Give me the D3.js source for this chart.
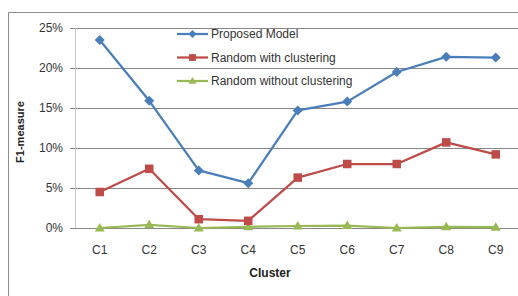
<!DOCTYPE html>
<html>
<head>
<meta charset="utf-8">
<script src="https://cdn.jsdelivr.net/npm/d3@7"></script>
<style>
  html, body { margin: 0; padding: 0; background: #fff; }
  svg { display: block; font-family: "Liberation Sans", Arial, sans-serif; }
</style>
</head>
<body>
<div id="chart"></div>
<script>
/* F1-measure per cluster, three methods */
var clusters = ["C1", "C2", "C3", "C4", "C5", "C6", "C7", "C8", "C9"];
var proposed = [23.5, 15.9, 7.2, 5.6, 14.7, 15.8, 19.5, 21.4, 21.3];
var randomWith = [4.5, 7.4, 1.1, 0.9, 6.3, 8.0, 8.0, 10.7, 9.2];
var randomWithout = [0.0, 0.4, 0.0, 0.15, 0.25, 0.3, 0.0, 0.15, 0.1];
var yTicks = [0, 5, 10, 15, 20, 25];
var seriesNames = ["Proposed Model", "Random with clustering", "Random without clustering"];
var seriesColors = ["#4a7ebb", "#be4b48", "#98b954"];

(function () {
  "use strict";

  var W = 518, H = 296;
  var m = { l: 75, t: 28, plotW: 445.5, plotH: 200 };

  var svg = d3.select("#chart").append("svg").attr("width", W).attr("height", H);

  // outer chart frame (cropped on right/bottom)
  svg.append("path")
    .attr("d", "M8.5," + H + "V12.5H" + W)
    .attr("fill", "none").attr("stroke", "#8c8c8c").attr("stroke-width", 1);

  var g = svg.append("g").attr("transform", "translate(" + m.l + "," + m.t + ")");

  var x = d3.scaleBand().domain(clusters).range([0, m.plotW]);
  var y = d3.scaleLinear().domain([0, 25]).range([m.plotH, 0]);
  var cx = function (d, i) { return x(clusters[i]) + x.bandwidth() / 2; };

  // gridlines
  g.append("g").selectAll("line").data(yTicks).join("line")
    .attr("x1", -5).attr("x2", m.plotW)
    .attr("y1", function (d) { return Math.round(y(d)) + 0.5; })
    .attr("y2", function (d) { return Math.round(y(d)) + 0.5; })
    .attr("stroke", "#868686").attr("stroke-width", 1);

  // vertical axis line
  g.append("line").attr("x1", 0.5).attr("x2", 0.5).attr("y1", 0).attr("y2", m.plotH)
    .attr("stroke", "#c8c8c8").attr("stroke-width", 1);

  // y tick labels
  g.append("g").selectAll("text").data(yTicks).join("text")
    .attr("x", -12).attr("y", function (d) { return y(d); })
    .attr("dy", "0.35em").attr("text-anchor", "end")
    .attr("font-size", 12).attr("fill", "#333")
    .text(function (d) { return d + "%"; });

  // x tick labels
  g.append("g").selectAll("text").data(clusters).join("text")
    .attr("x", function (d) { return x(d) + x.bandwidth() / 2; })
    .attr("y", m.plotH + 22).attr("dy", "0.35em").attr("text-anchor", "middle")
    .attr("font-size", 12).attr("fill", "#333")
    .text(function (d) { return d; });

  // axis titles
  svg.append("text").attr("x", 270).attr("y", 277).attr("text-anchor", "middle")
    .attr("font-size", 12).attr("font-weight", "bold").attr("fill", "#222").text("Cluster");
  svg.append("text").attr("transform", "translate(24,132) rotate(-90)").attr("text-anchor", "middle")
    .attr("font-size", 11).attr("font-weight", "bold").attr("fill", "#222").text("F1-measure");

  var line = d3.line().x(cx).y(function (d) { return y(d); });
  var allSeries = [proposed, randomWith, randomWithout];

  function drawMarker(sel, k, size) {
    var h = size / 2;
    if (k === 0) {
      sel.append("path").attr("d", "M0," + (-h) + "L" + h + ",0L0," + h + "L" + (-h) + ",0Z")
        .attr("fill", seriesColors[k]);
    } else if (k === 1) {
      sel.append("rect").attr("x", -h * 0.85).attr("y", -h * 0.85)
        .attr("width", size * 0.85).attr("height", size * 0.85).attr("fill", seriesColors[k]);
    } else {
      sel.append("path").attr("d", "M0," + (-h) + "L" + h + "," + h * 0.7 + "L" + (-h) + "," + h * 0.7 + "Z")
        .attr("fill", seriesColors[k]);
    }
  }

  // draw back-to-front so blue is on top
  [2, 1, 0].forEach(function (k) {
    var data = allSeries[k];
    g.append("path").datum(data).attr("d", line)
      .attr("fill", "none").attr("stroke", seriesColors[k]).attr("stroke-width", 2.25)
      .attr("stroke-linejoin", "round");
    data.forEach(function (v, i) {
      var mk = g.append("g").attr("transform", "translate(" + cx(v, i) + "," + y(v) + ")");
      drawMarker(mk, k, 10);
    });
  });

  // legend
  var leg = svg.append("g").attr("transform", "translate(177,34)");
  seriesNames.forEach(function (name, k) {
    var row = leg.append("g").attr("transform", "translate(0," + (k * 23.5) + ")");
    row.append("line").attr("x1", 0).attr("x2", 31).attr("y1", 0).attr("y2", 0)
      .attr("stroke", seriesColors[k]).attr("stroke-width", 2.25);
    var mk = row.append("g").attr("transform", "translate(15.5,0)");
    drawMarker(mk, k, 8);
    row.append("text").attr("x", 34).attr("y", 0).attr("dy", "0.35em")
      .attr("font-size", 12).attr("fill", "#333").text(name);
  });
})();
</script>
</body>
</html>
